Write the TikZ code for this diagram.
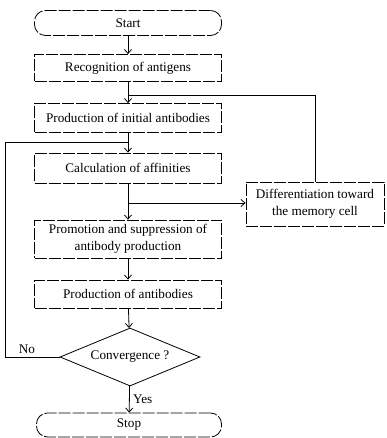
\documentclass[tikz,border=0pt]{standalone}
\usepackage{fontspec}
\setmainfont{Liberation Serif}
\usetikzlibrary{shapes.geometric,arrows.meta,positioning}
\tikzset{
  txt/.style={font=\fontsize{13.2}{17.5}\selectfont},
  proc/.style={draw,line width=0.8pt,dash pattern=on 12pt off 2pt,minimum width=187pt,minimum height=28pt,align=center,inner sep=2pt,txt},
  term/.style={proc,rounded corners=11pt,minimum height=25pt},
  decide/.style={draw,line width=0.8pt,diamond,aspect=2.4,minimum width=140pt,minimum height=58pt,inner sep=0pt,txt},
  flow/.style={-{Straight Barb[length=4pt,width=7pt]},line width=0.8pt},
  link/.style={line width=0.8pt}
}
\begin{document}
\begin{tikzpicture}[x=1pt,y=-1pt]
  \useasboundingbox (0,0) rectangle (386,438);
  % boxes
  \node[term] (start) at (128,23) {Start};
  \node[proc,minimum height=27pt] (recog) at (128,68) {Recognition of antigens};
  \node[proc,minimum height=29pt] (init) at (128,118) {Production of initial antibodies};
  \node[proc,minimum height=30pt] (calc) at (128,168) {Calculation of affinities};
  \node[proc,minimum width=138pt,minimum height=44pt] (diff) at (315,204) {Differentiation toward\\the memory cell};
  \node[proc,minimum height=38pt] (promo) at (128,239) {Promotion and suppression of\\antibody production};
  \node[proc] (prod) at (128,294) {Production of antibodies};
  \node[decide] (conv) at (130,357) {Convergence ?};
  \node[term,minimum width=185pt,minimum height=24pt] (stop) at (129,425) {Stop};
  % helper points
  \coordinate (fb) at (128,95);
  \coordinate (lp) at (128,142);
  \coordinate (br) at (128,203);
  \coordinate (nocorner) at (5,357);
  % connectors
  \draw[flow] (start) -- (recog);
  \draw[flow] (recog) -- (init);
  \draw[flow] (init) -- (calc);
  \draw[flow] (calc) -- (promo);
  \draw[flow] (promo) -- (prod);
  \draw[flow] (prod) -- (conv);
  \draw[flow] (conv) -- node[right,txt]{Yes} (stop);
  \draw[flow] (br) -- (br -| diff.west);
  \draw[link] (diff.north) |- (fb);
  \draw[link] (conv.west) -- node[above,pos=0.6,txt]{No} (nocorner) |- (lp);
\end{tikzpicture}
\end{document}
